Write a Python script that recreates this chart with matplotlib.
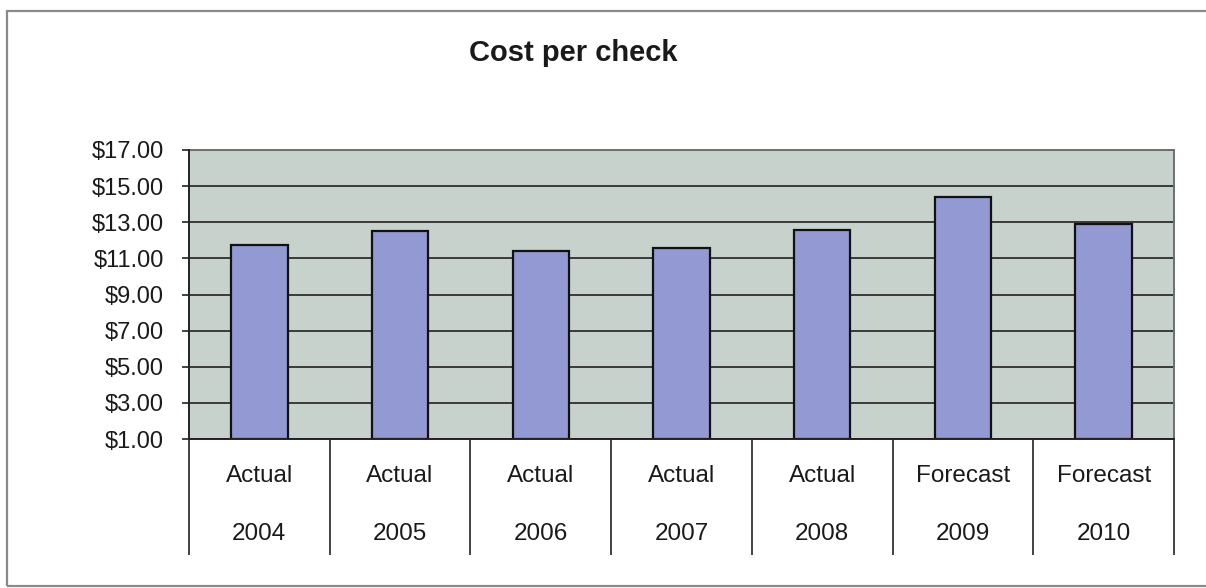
import matplotlib
matplotlib.use("Agg")
import matplotlib.pyplot as plt
from matplotlib.patches import Rectangle
from matplotlib.ticker import FuncFormatter

plt.rcParams['font.family'] = ['Liberation Sans', 'DejaVu Sans']

# Cost per check by year
years = ["2004", "2005", "2006", "2007", "2008", "2009", "2010"]
kinds = ["Actual", "Actual", "Actual", "Actual", "Actual", "Forecast", "Forecast"]
cost = [11.72, 12.50, 11.43, 11.57, 12.57, 14.40, 12.89]

y_ticks = [1, 3, 5, 7, 9, 11, 13, 15, 17]
y_min, y_max = y_ticks[0], y_ticks[-1]

fig = plt.figure(figsize=(12.06, 5.88), dpi=100)
fig.patch.set_facecolor("white")

# outer chart-area frame
fig.patches.append(Rectangle((7 / 1206, 2 / 588), 1.2, 575 / 588,
                             transform=fig.transFigure, fill=False,
                             edgecolor="#8a8a8a", linewidth=1.6,
                             clip_on=False, zorder=0))

ax = fig.add_axes([189 / 1206, 1 - 439 / 588, (1174 - 189) / 1206, (439 - 150) / 588])
ax.set_facecolor("#c6d2cb")

x = list(range(len(years)))
ax.bar(x, [c - y_min for c in cost], bottom=y_min, width=0.4,
       color="#9399d2", edgecolor="#111111", linewidth=1.6, zorder=3)

ax.set_xlim(-0.5, len(years) - 0.5)
ax.set_ylim(y_min, y_max)
ax.set_yticks(y_ticks)
ax.yaxis.set_major_formatter(FuncFormatter(lambda v, p: f"${v:.2f}"))
ax.grid(axis="y", color="#3a3a3a", linewidth=1.4, zorder=1)

ax.tick_params(axis="y", direction="out", length=5, width=1.2, color="#222222",
               labelsize=17, labelcolor="#1a1a1a", pad=13)

# category separators running down through the label area
ax.set_xticks([i - 0.5 for i in range(len(years) + 1)])
ax.set_xticklabels([])
ax.tick_params(axis="x", direction="out", length=83.5, width=1.2, color="#222222")

for i, (k, yr) in enumerate(zip(kinds, years)):
    ax.text(i, -0.128, k, transform=ax.get_xaxis_transform(), ha="center",
            va="center", fontsize=17.5, color="#1a1a1a")
    ax.text(i, -0.329, yr, transform=ax.get_xaxis_transform(), ha="center",
            va="center", fontsize=17.5, color="#1a1a1a")

for side in ("left", "bottom"):
    ax.spines[side].set_color("#222222")
    ax.spines[side].set_linewidth(1.4)
for side in ("top", "right"):
    ax.spines[side].set_color("#6f6f6f")
    ax.spines[side].set_linewidth(1.4)
ax.spines["left"].set_zorder(4)
ax.spines["bottom"].set_zorder(4)

fig.text(573 / 1206, 1 - 53 / 588, "Cost per check", ha="center", va="center",
         fontsize=21, fontweight="bold", color="#1a1a1a")

fig.savefig("out.png", dpi=100)
